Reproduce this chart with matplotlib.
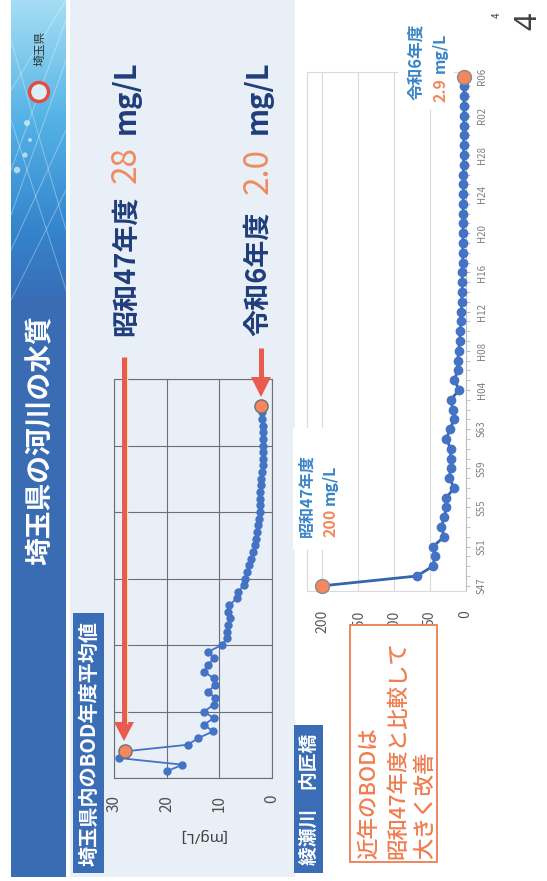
import matplotlib.pyplot as plt
import numpy as np
from matplotlib.patches import Rectangle, Circle, Polygon

plt.rcParams['font.family'] = ['Noto Sans CJK JP', 'DejaVu Sans']

# 埼玉県内のBOD年度平均値 [mg/L]
pref_years = list(range(1969, 2025))
pref_bod = [20.0, 17.0, 29.0, 28.0, 16.0, 14.0, 11.2, 12.9, 11.1, 12.9,
            11.1, 10.8, 12.1, 10.8, 11.1, 12.9, 12.1, 11.1, 12.1, 9.5,
            8.6, 8.6, 8.3, 8.0, 8.3, 8.1, 6.7, 6.4, 5.4, 5.1,
            4.8, 4.3, 4.0, 3.6, 3.3, 3.0, 2.8, 2.6, 2.4, 2.3,
            2.3, 2.2, 2.2, 2.1, 2.0, 1.9, 1.8, 1.8, 1.7, 1.7,
            1.7, 1.8, 1.8, 1.9, 1.9, 2.0]
pref_ticks = [0, 10, 20, 30]

# 綾瀬川 内匠橋 BOD [mg/L]
river_years = list(range(1972, 2025))
river_bod = [200, 68, 46, 43, 46, 30, 34, 30, 27, 27,
             16, 23, 21, 21, 21, 27, 22, 16, 18, 21,
             9, 16, 11, 11, 10, 8, 8, 6, 6, 5.5,
             5.0, 4.8, 4.5, 4.3, 4.0, 4.0, 3.8, 3.6, 3.5, 3.5,
             3.3, 3.2, 3.2, 3.0, 3.0, 2.8, 2.7, 2.6, 2.5, 2.4,
             2.4, 2.3, 2.9]
river_ticks = [0, 50, 100, 150, 200]
era_years = [1972, 1976, 1980, 1984, 1988, 1992, 1996, 2000, 2004, 2008,
             2012, 2016, 2020, 2024]
era_labels = ['S47', 'S51', 'S55', 'S59', 'S63', 'H04', 'H08', 'H12', 'H16',
              'H20', 'H24', 'H28', 'R02', 'R06']

W, H = 547, 881
NAVY = '#1f3d7a'
ORANGE = '#f08a5f'
RED = '#e95b4f'
BLUE_BOX = '#3a6db5'
PT_BLUE = '#4472c4'

fig = plt.figure(figsize=(W / 100, H / 100), dpi=100)


def px_axes(x0, y0, x1, y1, **kw):
    return fig.add_axes([x0 / W, 1 - y1 / H, (x1 - x0) / W, (y1 - y0) / H], **kw)


def canvas(z):
    a = fig.add_axes([0, 0, 1, 1], zorder=z)
    a.set_xlim(0, W)
    a.set_ylim(H, 0)
    a.axis('off')
    a.patch.set_alpha(0)
    return a


bg = canvas(0)
top = canvas(10)

# slide panels
bg.add_patch(Rectangle((70, 0), 225, 877, fc='#e9eff7', ec='none'))

# side bar with gradient
stops_y = [0, 120, 230, 290, 300, 877]
stops_c = np.array([[165, 222, 244], [84, 178, 230], [52, 132, 204],
                    [56, 112, 186], [58, 108, 180], [58, 108, 180]]) / 255
rows = np.arange(877)
grad = np.stack([np.interp(rows, stops_y, stops_c[:, k]) for k in range(3)], axis=1)
grad = np.repeat(grad[:, None, :], 2, axis=1)
bg.imshow(grad, extent=(11, 66, 877, 0), aspect='auto', zorder=1)
for (ya, yb) in [(215, 60), (250, 130), (120, 290), (40, 230), (300, 190), (170, 20), (90, 0)]:
    bg.plot([11, 66], [ya, yb], color='white', lw=0.7, alpha=0.35, zorder=2)
bg.scatter([27, 25, 17, 30], [123, 155, 170, 140], s=[18, 14, 22, 8], color='white',
           alpha=0.6, lw=0, zorder=2)
bg.set_xlim(0, W)
bg.set_ylim(H, 0)

# logo and title
bg.add_patch(Circle((39, 92), 9.5, fc='#d8eef9', ec='#e8493f', lw=2.4, zorder=3))
bg.text(40, 48, '埼玉県', rotation=90, fontsize=8.5, color='#333333',
        ha='center', va='center', zorder=3)
bg.text(41, 440, '埼玉県の河川の水質', rotation=90, fontsize=20, color='white',
        fontweight='bold', ha='center', va='center', zorder=3)

# headlines
kw = dict(rotation=90, rotation_mode='anchor', va='center')
top.text(126, 336, '昭和47年度', ha='left', color=NAVY, fontweight='bold', fontsize=19.5, **kw)
top.text(126, 183, '28', ha='left', color=ORANGE, fontsize=24, **kw)
top.text(126, 60, 'mg/L', ha='right', color=NAVY, fontweight='bold', fontsize=21, **kw)
top.text(258, 336, '令和6年度', ha='left', color=NAVY, fontweight='bold', fontsize=19.5, **kw)
top.text(258, 194, '2.0', ha='left', color=ORANGE, fontsize=24, **kw)
top.text(258, 60, 'mg/L', ha='right', color=NAVY, fontweight='bold', fontsize=21, **kw)

# arrows
top.plot([127, 127], [357, 723], color='#f6e7a8', lw=1.0)
top.plot([124, 124], [357, 724], color=RED, lw=3.6, solid_capstyle='butt')
top.add_patch(Polygon([(114, 722), (134, 722), (124, 741)], closed=True, fc=RED, ec='none'))
top.plot([261, 261], [348, 379], color=RED, lw=3.6, solid_capstyle='butt')
top.add_patch(Polygon([(251, 377), (271, 377), (261, 397)], closed=True, fc=RED, ec='none'))

# left chart
bg.add_patch(Rectangle((73, 613), 31, 260, fc=BLUE_BOX, ec='none'))
bg.text(89, 743, '埼玉県内のBOD年度平均値', rotation=90, fontsize=14.5, color='white',
        fontweight='bold', ha='center', va='center')
ax1 = px_axes(114, 379, 272, 778, zorder=5)
ax1.patch.set_alpha(0)
ax1.set_xlim(30, 0)
ax1.set_ylim(1968, 2028)
ax1.set_xticks(pref_ticks)
ax1.set_yticks(range(1968, 2029, 10))
ax1.set_yticklabels([])
ax1.grid(color='#6f6f6f', lw=0.8)
for s in ax1.spines.values():
    s.set_color('#6f6f6f')
    s.set_linewidth(0.8)
ax1.tick_params(length=0, labelsize=11, labelcolor='#505050', pad=12)
ax1.tick_params(axis='x', labelrotation=90)
ax1.plot(pref_bod, pref_years, '-o', color=PT_BLUE, lw=1.3, ms=5, zorder=3)
for yr in (1972, 2024):
    ax1.plot(pref_bod[pref_years.index(yr)], yr, 'o', ms=9.5, mfc='#f4875e',
             mec='#707070', mew=1, zorder=4)
bg.text(202, 836, '[mg/L]', rotation=180, fontsize=11, color='#404040',
        ha='center', va='center', family=['Noto Sans', 'DejaVu Sans'])

# right chart
ax2 = px_axes(307, 71.7, 465.7, 590.7, zorder=5)
ax2.set_facecolor('white')
ax2.set_xlim(221.6, 0)
ax2.set_ylim(1971.5, 2024.5)
ax2.set_xticks(river_ticks)
ax2.grid(axis='x', color='#d9d9d9', lw=0.8)
for s in ax2.spines.values():
    s.set_color('#d9d9d9')
    s.set_linewidth(0.8)
ax2.spines['right'].set_color('#bfbfbf')
ax2.tick_params(axis='x', length=0, labelsize=10, labelcolor='#595959', pad=14,
                labelrotation=90)
ax2.yaxis.tick_right()
ax2.set_yticks(era_years)
ax2.set_yticklabels(era_labels)
ax2.set_yticks(river_years, minor=True)
ax2.tick_params(axis='y', which='both', direction='out', length=3, color='#bfbfbf',
                labelsize=7, labelcolor='#7f7f7f', pad=5)
for lbl in ax2.get_yticklabels():
    lbl.set_rotation(90)
    lbl.set_va('center')
ax2.plot(river_bod, river_years, '-o', color='#3565ad', lw=2.0, ms=6,
         mfc=PT_BLUE, mec=PT_BLUE, zorder=3, clip_on=False)
for yr in (1972, 2024):
    ax2.plot(river_bod[river_years.index(yr)], yr, 'o', ms=10, mfc='#f4875e',
             mec='#8a8a8a', mew=1, zorder=4, clip_on=False)

# value labels on the river chart
lbl_blue = '#3a85c8'
top.add_patch(Rectangle((398, 8), 56, 102, fc='white', ec='none'))
top.text(416.5, 100, '令和6年度', ha='left', rotation=90, rotation_mode='anchor',
         va='center', fontsize=12, color=lbl_blue, fontweight='bold')
top.text(440, 102, '2.9', ha='left', rotation=90, rotation_mode='anchor',
         va='center', fontsize=11.5, color=ORANGE, fontweight='bold')
top.text(440, 33, 'mg/L', ha='right', rotation=90, rotation_mode='anchor',
         va='center', fontsize=11.5, color=lbl_blue, fontweight='bold')
top.add_patch(Rectangle((293, 428), 47, 122, fc='white', ec='none'))
top.text(306.5, 537, '昭和47年度', ha='left', rotation=90, rotation_mode='anchor',
         va='center', fontsize=11.5, color=lbl_blue, fontweight='bold')
top.text(330, 537, '200', ha='left', rotation=90, rotation_mode='anchor',
         va='center', fontsize=11.5, color=ORANGE, fontweight='bold')
top.text(330, 465, 'mg/L', ha='right', rotation=90, rotation_mode='anchor',
         va='center', fontsize=11.5, color=lbl_blue, fontweight='bold')

# river name and summary box
top.add_patch(Rectangle((294, 725), 29, 148, fc=BLUE_BOX, ec='none'))
top.text(309, 799, '綾瀬川\u3000内匠橋', rotation=90, fontsize=13.5, color='white',
         fontweight='bold', ha='center', va='center')
top.add_patch(Rectangle((350, 625), 87, 237, fc='white', ec='#ef7d50', lw=1.3))
for x, line in zip([369, 398, 425], ['近年のBODは', '昭和47年度と比較して', '大きく改善']):
    top.text(x, 859, line, ha='left', rotation=90, rotation_mode='anchor',
             va='center', fontsize=15.5, color='#ef7d50', fontweight='medium')

# page number
top.text(528, 21, '4', rotation=90, fontsize=22, color='#404040', ha='center',
         va='center', family=['Noto Sans', 'DejaVu Sans'], fontweight='light')
top.text(497, 15, '4', rotation=90, fontsize=7, color='#404040', ha='center',
         va='center')

fig.savefig('out.png', dpi=100)
